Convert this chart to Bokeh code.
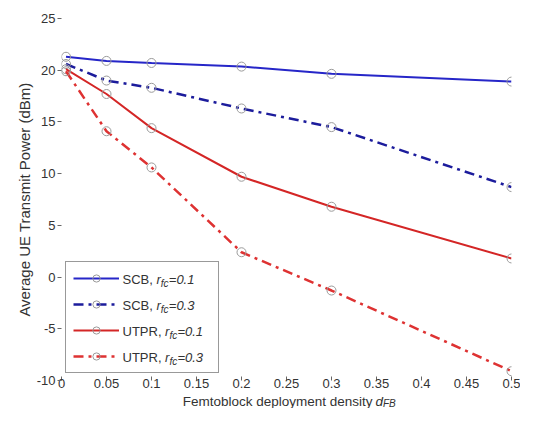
from bokeh.plotting import figure
from bokeh.layouts import column
from bokeh.models import (Range1d, FixedTicker, NumeralTickFormatter, Legend, LegendItem, Label)
from bokeh.embed import file_html
from bokeh.resources import INLINE

# ---- data ----
x_density = [0.005, 0.05, 0.1, 0.2, 0.3, 0.5]
scb_rfc01 = [21.3, 20.9, 20.7, 20.35, 19.65, 18.9]
scb_rfc03 = [20.6, 19.0, 18.3, 16.3, 14.5, 8.7]
utpr_rfc01 = [20.1, 17.7, 14.4, 9.7, 6.8, 1.8]
utpr_rfc03 = [19.9, 14.1, 10.6, 2.4, -1.3, -9.1]

series_prefix = ["SCB, ", "SCB, ", "UTPR, ", "UTPR, "]
series_rfc = ["=0.1", "=0.3", "=0.1", "=0.3"]
x_ticks = [0, 0.05, 0.1, 0.15, 0.2, 0.25, 0.3, 0.35, 0.4, 0.45, 0.5]
y_ticks = [-10, -5, 0, 5, 10, 15, 20, 25]
y_tick_labels = ["-10", "-5", "0", "5", "10", "15", "20", "25"]

FONT = "Liberation Sans"
TXT = "#333333"

p = figure(width=520, height=393, output_backend="svg", toolbar_location=None,
           x_range=Range1d(0, 0.5), y_range=Range1d(-10, 25),
           min_border_left=61, min_border_right=9, min_border_top=18, min_border_bottom=13)
p.outline_line_color = None
p.grid.visible = False
p.background_fill_color = "white"
p.border_fill_color = "white"

p.xaxis.ticker = FixedTicker(ticks=x_ticks)
p.xaxis.formatter = NumeralTickFormatter(format="0.[00]")
p.yaxis.ticker = FixedTicker(ticks=y_ticks)
p.yaxis.major_label_overrides = dict(zip(y_ticks, y_tick_labels))
for ax in (p.xaxis, p.yaxis):
    ax.axis_line_color = None
    ax.major_tick_line_color = "#666666"
    ax.minor_tick_line_color = None
    ax.major_label_text_font = FONT
    ax.major_label_text_font_size = "13px"
    ax.major_label_text_color = TXT
p.xaxis.major_tick_in = 4
p.xaxis.major_tick_out = 0
p.xaxis.major_label_standoff = -2
p.yaxis.major_tick_in = 0
p.yaxis.major_tick_out = 4
p.yaxis.major_label_standoff = 2
p.yaxis.axis_label = "Average UE Transmit Power (dBm)"
p.yaxis.axis_label_text_font = FONT
p.yaxis.axis_label_text_font_size = "15px"
p.yaxis.axis_label_text_font_style = "normal"
p.yaxis.axis_label_text_color = TXT
p.yaxis.axis_label_standoff = 1

styles = [
    (scb_rfc01, "#2626c8", "solid", 2),
    (scb_rfc03, "#1c1c9c", "10 5 3 5", 2.5),
    (utpr_rfc01, "#d42626", "solid", 2),
    (utpr_rfc03, "#de3232", "10 5 3 5", 2.5),
]
items = []
for vals, col, dash, lw in styles:
    lr = p.line(x_density, vals, line_color=col, line_width=lw, line_dash=dash)
    sr = p.scatter(x_density, vals, marker="circle", size=9, fill_color=None,
                   line_color="#9a9a9a", line_width=1)
    items.append(LegendItem(label=" ", renderers=[lr, sr]))

legend = Legend(items=items, location=(4, 7), padding=7, spacing=8, margin=0,
                glyph_width=46, glyph_height=18, label_height=18, label_width=88,
                label_standoff=4, border_line_color="#333333", border_line_width=1,
                background_fill_alpha=0,
                label_text_font=FONT, label_text_font_size="13px")
p.add_layout(legend, "center")

# legend texts with italic r and subscript fc
pre_w = {"SCB, ": 34.0, "UTPR, ": 42.6}
for i, (pre, rv) in enumerate(zip(series_prefix, series_rfc)):
    yc = 101 - 26 * i
    x0 = 61
    p.add_layout(Label(x=x0, y=yc, x_units="screen", y_units="screen", text=pre,
                       text_font=FONT, text_font_size="13px", text_color=TXT,
                       text_baseline="middle", text_align="left"))
    x1 = x0 + pre_w[pre]
    p.add_layout(Label(x=x1, y=yc, x_units="screen", y_units="screen", text="r",
                       text_font=FONT, text_font_size="13px", text_font_style="italic",
                       text_color=TXT, text_baseline="middle", text_align="left"))
    p.add_layout(Label(x=x1 + 4.3, y=yc - 4, x_units="screen", y_units="screen", text="fc",
                       text_font=FONT, text_font_size="10px", text_font_style="italic",
                       text_color=TXT, text_baseline="middle", text_align="left"))
    p.add_layout(Label(x=x1 + 12.3, y=yc, x_units="screen", y_units="screen", text=rv,
                       text_font=FONT, text_font_size="13px", text_font_style="italic",
                       text_color=TXT, text_baseline="middle", text_align="left"))

# strip below the plot carrying the x axis label (italic d with subscript FB);
# its frame is aligned with the main plot's frame by the column layout
p2 = figure(width=520, height=15, output_backend="svg", toolbar_location=None,
            x_axis_type=None, y_axis_type=None, min_border=0,
            x_range=Range1d(0, 1), y_range=Range1d(0, 1))
p2.outline_line_color = None
p2.grid.visible = False
p2.add_layout(Label(x=311, y=7.5, x_units="screen", y_units="screen",
                    text="Femtoblock deployment density",
                    text_font=FONT, text_font_size="13.5px", text_color=TXT,
                    text_baseline="middle", text_align="right"))
p2.add_layout(Label(x=314, y=7.5, x_units="screen", y_units="screen", text="d",
                    text_font=FONT, text_font_size="13.5px", text_font_style="italic",
                    text_color=TXT, text_baseline="middle", text_align="left"))
p2.add_layout(Label(x=321.5, y=5, x_units="screen", y_units="screen", text="FB",
                    text_font=FONT, text_font_size="10px", text_font_style="italic",
                    text_color=TXT, text_baseline="middle", text_align="left"))

layout = column(p, p2, spacing=0)
open("out.html", "w").write(file_html(layout, INLINE))
